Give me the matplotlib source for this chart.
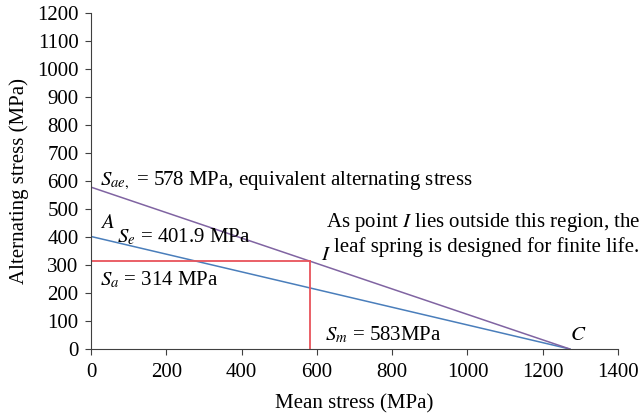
import matplotlib
matplotlib.use("Agg")
from matplotlib import pyplot as plt

# Goodman-type diagram values (MPa)
mean_line = [0, 1272]
se_line = [401.9, 0]        # A -> C
sae_line = [578, 0]         # equivalent alternating stress -> C
sm_point = 583
sa_point = 314

x_ticks = [0, 200, 400, 600, 800, 1000, 1200, 1400]
y_ticks = list(range(0, 1201, 100))

plt.rcParams['font.family'] = ['Liberation Serif', 'DejaVu Serif']
plt.rcParams['mathtext.fontset'] = 'stix'

fig = plt.figure(figsize=(6.42, 4.17), dpi=100)
ax = fig.add_axes([0.1417, 0.163, 0.821, 0.806])

ax.plot(mean_line, se_line, color='#4a7ebb', lw=1.1)
ax.plot(mean_line, sae_line, color='#8064a2', lw=1.1)
ax.plot([0, sm_point], [sa_point, sa_point], color='#e8535b', lw=1.3)
ax.plot([sm_point, sm_point], [sa_point, 0], color='#e8535b', lw=1.3)

ax.set_xlim(0, 1400)
ax.set_ylim(0, 1200)
ax.set_xticks(x_ticks)
ax.set_yticks(y_ticks)
ax.spines['top'].set_visible(False)
ax.spines['right'].set_visible(False)
for s in ['left', 'bottom']:
    ax.spines[s].set_color('#404040')
ax.tick_params(direction='out', length=4, color='#404040', labelsize=15)
ax.tick_params(axis='x', pad=6)
ax.tick_params(axis='y', pad=5)
ax.set_xlabel("Mean stress (MPa)", fontsize=15, labelpad=9)
ax.set_ylabel("Alternating stress (MPa)", fontsize=15, labelpad=6)

fs = 15
ax.text(24, 586, r"$S_{ae,}$ = 578 MPa, equivalent alternating stress", fontsize=fs, va='baseline')
ax.text(24, 432, r"$A$", fontsize=fs, va='baseline')
ax.text(69, 382, r"$S_e$ = 401.9 MPa", fontsize=fs, va='baseline')
ax.text(24, 229, r"$S_a$ = 314 MPa", fontsize=fs, va='baseline')
ax.text(612, 318, r"$I$", fontsize=fs, va='baseline')
ax.text(622, 32, r"$S_m$ = 583MPa", fontsize=fs, va='baseline')
ax.text(1273, 32, r"$C$", fontsize=fs, va='baseline')
ax.text(1460, 436, r"As point $I$ lies outside this region, the", fontsize=fs,
        va='baseline', ha='right', clip_on=False)
ax.text(1455, 346, "leaf spring is designed for finite life.", fontsize=fs,
        va='baseline', ha='right', clip_on=False)

plt.savefig('out.png', dpi=100)
plt.close()
